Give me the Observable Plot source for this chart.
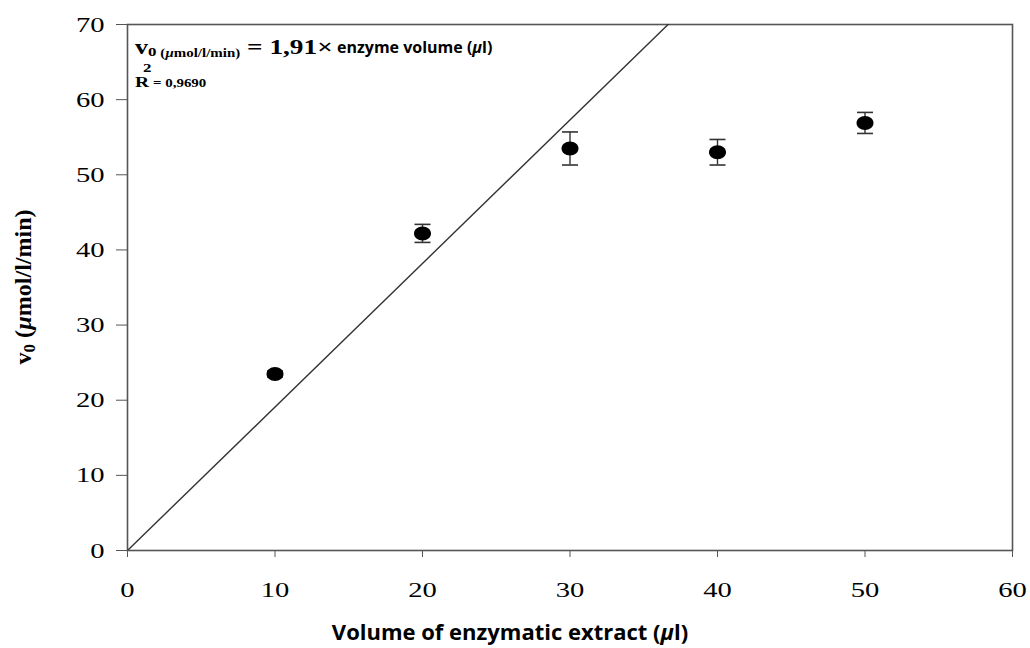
<!DOCTYPE html>
<html>
<head>
<meta charset="utf-8">
<script src="https://cdn.jsdelivr.net/npm/d3@7"></script>
<script src="https://cdn.jsdelivr.net/npm/@observablehq/plot@0.6"></script>
<style>
  html, body { margin: 0; padding: 0; background: #fff; }
  #chart svg { display: block; }
</style>
</head>
<body>
<div id="chart"></div>
<script>
// ---- data ----
const volumes = [10, 20, 30, 40, 50];           // µl
const v0 = [23.5, 42.2, 53.5, 53.0, 56.9];      // µmol/l/min
const sd = [0.4, 1.2, 2.2, 1.7, 1.4];
const xTicks = [0, 10, 20, 30, 40, 50, 60];
const yTicks = [0, 10, 20, 30, 40, 50, 60, 70];
const slope = 1.91;
const slopeLabel = "1,91";
const r2Label = "0,9690";
const fitX = [0, 60];

const points = volumes.map((x, i) => ({x, y: v0[i], lo: v0[i] - sd[i], hi: v0[i] + sd[i]}));
const fit = fitX.map(x => ({x, y: slope * x}));

// custom symbols
const ellipse = {
  draw(ctx, size) {
    const rx = 8.5, ry = 7, k = 0.5523;
    ctx.moveTo(rx, 0);
    ctx.bezierCurveTo(rx, ry * k, rx * k, ry, 0, ry);
    ctx.bezierCurveTo(-rx * k, ry, -rx, ry * k, -rx, 0);
    ctx.bezierCurveTo(-rx, -ry * k, -rx * k, -ry, 0, -ry);
    ctx.bezierCurveTo(rx * k, -ry, rx, -ry * k, rx, 0);
    ctx.closePath();
  }
};
const cap = {
  draw(ctx, size) {
    ctx.moveTo(-8, 0);
    ctx.lineTo(8, 0);
  }
};

const plot = Plot.plot({
  width: 1030,
  height: 648,
  marginLeft: 127,
  marginRight: 18,
  marginTop: 24,
  marginBottom: 98,
  style: {fontFamily: "Liberation Serif", background: "#fff", color: "#000"},
  x: {domain: [0, 60], ticks: xTicks},
  y: {domain: [0, 70], ticks: yTicks},
  marks: [
    Plot.frame({stroke: "#555", strokeWidth: 1.6}),
    Plot.axisX({ticks: xTicks, tickSize: 7, tickPadding: 24, fontSize: 22, stroke: "#555", label: null, tickFormat: d => String(d)}),
    Plot.axisY({ticks: yTicks, tickSize: 11, tickPadding: 12, fontSize: 22, stroke: "#555", label: null, tickFormat: d => String(d)}),
    Plot.line(fit, {x: "x", y: "y", stroke: "#333", strokeWidth: 1.4, clip: true}),
    Plot.ruleX(points, {x: "x", y1: "lo", y2: "hi", stroke: "#333", strokeWidth: 1.4}),
    Plot.dot(points, {x: "x", y: "lo", symbol: cap, stroke: "#333", strokeWidth: 1.6, fill: "none"}),
    Plot.dot(points, {x: "x", y: "hi", symbol: cap, stroke: "#333", strokeWidth: 1.6, fill: "none"}),
    Plot.dot(points, {x: "x", y: "y", symbol: ellipse, fill: "#000", stroke: "none"})
  ]
});

document.getElementById("chart").appendChild(plot);

const svg = d3.select(plot);
const xs = plot.scale("x"), ys = plot.scale("y");
const px0 = xs.apply(0), pyTop = ys.apply(70);
const SX = 1.3; // horizontal stretch of the serif typography in the reference

// widen tick labels (keep Plot's own y / dy offsets)
svg.selectAll('g[aria-label*="tick label"] text').each(function () {
  const t = d3.select(this);
  const xa = t.attr("x");
  if (xa != null && !isNaN(+xa)) t.attr("x", +xa / SX);
  const tr = t.attr("transform") || "";
  t.attr("transform", `${tr} scale(${SX},1)`);
});

// equation annotation (serif part, stretched)
const eq = svg.append("text")
  .attr("transform", `translate(${px0 + 8},${pyTop + 30}) scale(${SX},1)`)
  .attr("text-anchor", "start").attr("fill", "#000")
  .attr("font-family", "Liberation Serif").attr("font-weight", "bold");
eq.append("tspan").attr("font-size", 20).text("v");
eq.append("tspan").attr("font-size", 13).attr("dy", 2).text("0");
eq.append("tspan").attr("font-size", 11.5).attr("dy", 1).text(" (");
eq.append("tspan").attr("font-size", 11.5).attr("font-style", "italic").text("µ");
eq.append("tspan").attr("font-size", 11.5).text("mol/l/min)");
eq.append("tspan").attr("font-size", 21).attr("dy", -3).text(" = " + slopeLabel + "×");

const eq2 = svg.append("text")
  .attr("x", px0 + 210).attr("y", pyTop + 29)
  .attr("text-anchor", "start").attr("fill", "#000")
  .attr("font-family", "Open Sans").attr("font-weight", "bold").attr("font-size", 16);
eq2.append("tspan").text("enzyme volume (");
eq2.append("tspan").attr("font-style", "italic").text("µ");
eq2.append("tspan").text("l)");

svg.append("text")
  .attr("transform", `translate(${px0 + 16},${pyTop + 48}) scale(${SX},1)`)
  .attr("text-anchor", "start")
  .attr("font-family", "Liberation Serif").attr("font-weight", "bold").attr("font-size", 13).text("2");
const r2 = svg.append("text")
  .attr("transform", `translate(${px0 + 8},${pyTop + 63}) scale(${SX},1)`)
  .attr("text-anchor", "start")
  .attr("font-family", "Liberation Serif").attr("font-weight", "bold");
r2.append("tspan").attr("font-size", 15).text("R");
r2.append("tspan").attr("font-size", 11.5).attr("dx", 3).text("= " + r2Label);

// y axis title
const yt = svg.append("text")
  .attr("transform", `translate(31, ${(ys.apply(0) + ys.apply(70)) / 2}) rotate(-90)`)
  .attr("text-anchor", "middle")
  .attr("font-family", "Liberation Serif").attr("font-weight", "bold").attr("font-size", 24).attr("fill", "#000");
yt.append("tspan").text("v");
yt.append("tspan").attr("font-size", 17).attr("dy", 4).text("0");
yt.append("tspan").attr("dy", -4).text(" (");
yt.append("tspan").attr("font-style", "italic").text("µ");
yt.append("tspan").text("mol/l/min)");

// x axis title
const xt = svg.append("text")
  .attr("x", 510).attr("y", 640)
  .attr("text-anchor", "middle")
  .attr("font-family", "Open Sans").attr("font-weight", "bold").attr("font-size", 22).attr("fill", "#000");
xt.append("tspan").text("Volume of enzymatic extract (");
xt.append("tspan").attr("font-style", "italic").text("µ");
xt.append("tspan").text("l)");
</script>
</body>
</html>
